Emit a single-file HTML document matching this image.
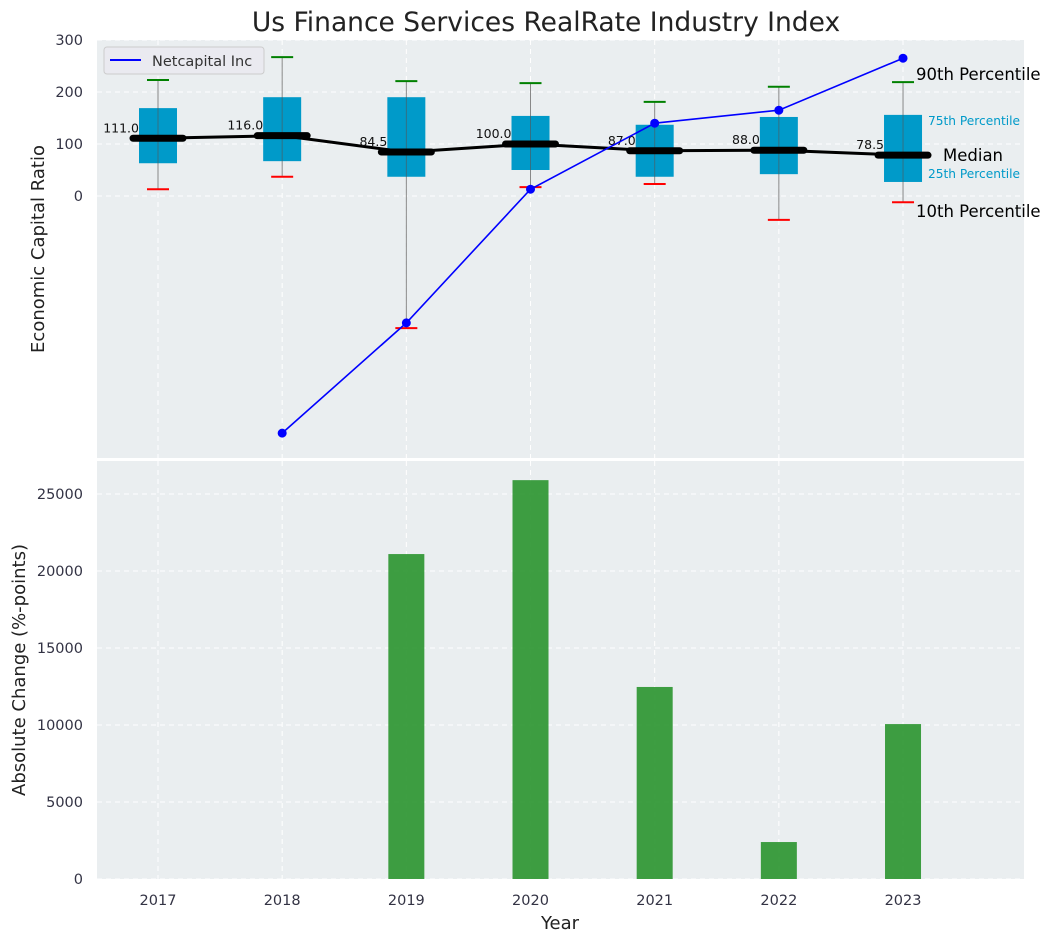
<!DOCTYPE html>
<html><head><meta charset="utf-8"><style>
body{margin:0;background:#fff;font-family:"DejaVu Sans","Liberation Sans",sans-serif}
svg{display:block}
</style></head><body>
<svg id="chart" width="1050" height="942" xmlns="http://www.w3.org/2000/svg" font-family="DejaVu Sans, Liberation Sans, sans-serif"></svg>
<script>
const years = [2017, 2018, 2019, 2020, 2021, 2022, 2023];
const p10 = [13, 37, -254, 17, 23, -46, -12];
const q1 = [63, 67, 37, 50, 37, 42, 27];
const medians = [111, 116, 84.5, 100, 87, 88, 78.5];
const q3 = [169, 190, 190, 154, 137, 152, 156];
const p90 = [223, 267, 221, 217, 181, 210, 219];
const company = [null, -456, -244, 13, 140, 165, 265];
const changes = [null, null, 21100, 25900, 12470, 2400, 10060];
const topTicks = [0, 100, 200, 300];
const botTicks = [0, 5000, 10000, 15000, 20000, 25000];

const NS = "http://www.w3.org/2000/svg";
const svg = document.getElementById('chart');
function mk(tag, attrs, parent, text) {
  const e = document.createElementNS(NS, tag);
  for (const k in attrs) e.setAttribute(k, attrs[k]);
  if (text !== undefined) e.textContent = text;
  (parent || svg).appendChild(e);
  return e;
}
const X0 = 97, X1 = 1024;
const xs = i => 158 + i * 124.17;
const yT = v => 196 - v * 0.52;
const yB = v => 879 - v * 0.01540;

let t = mk('text', {x: 546, y: 31, 'font-size': 26.5, 'text-anchor': 'middle', fill: '#222'}, svg, 'Us Finance Services RealRate Industry Index');
 

let p = mk('rect', {x: X0, y: 40, width: X1 - X0, height: 418, fill: '#eaeef0'});
 
p = mk('rect', {x: X0, y: 461, width: X1 - X0, height: 418, fill: '#eaeef0'});
 

years.forEach((y, i) => {
  mk('line', {x1: xs(i), x2: xs(i), y1: 40, y2: 458, stroke: '#fff', 'stroke-dasharray': '5,4'});
  mk('line', {x1: xs(i), x2: xs(i), y1: 461, y2: 879, stroke: '#fff', 'stroke-dasharray': '5,4'});
  const l = mk('text', {x: xs(i), y: 905, 'font-size': 14.5, 'text-anchor': 'middle', fill: '#334'}, svg, y);
   
});
topTicks.forEach(v => {
  mk('line', {x1: X0, x2: X1, y1: yT(v), y2: yT(v), stroke: '#fff', 'stroke-dasharray': '5,4'});
  const l = mk('text', {x: 83, y: yT(v) + 5, 'font-size': 14.5, 'text-anchor': 'end', fill: '#334'}, svg, v);
   
});
botTicks.forEach(v => {
  mk('line', {x1: X0, x2: X1, y1: yB(v), y2: yB(v), stroke: '#fff', 'stroke-dasharray': '5,4'});
  const l = mk('text', {x: 83, y: yB(v) + 5, 'font-size': 14.5, 'text-anchor': 'end', fill: '#334'}, svg, v);
   
});

years.forEach((y, i) => {
  const x = xs(i);
  const w = mk('line', {x1: x, x2: x, y1: yT(p90[i]), y2: yT(p10[i]), stroke: '#888', 'stroke-width': 1});
   
  const b = mk('rect', {x: x - 19, y: yT(q3[i]), width: 38, height: yT(q1[i]) - yT(q3[i]), fill: '#009ac9'});
   
  mk('line', {x1: x, x2: x, y1: yT(q3[i]), y2: yT(q1[i]), stroke: '#555', 'stroke-width': 1, opacity: 0.6});
  const g = mk('line', {x1: x - 11, x2: x + 11, y1: yT(p90[i]), y2: yT(p90[i]), stroke: 'green', 'stroke-width': 2});
   
  const r = mk('line', {x1: x - 11, x2: x + 11, y1: yT(p10[i]), y2: yT(p10[i]), stroke: 'red', 'stroke-width': 2});
   
});
let pts = years.map((y, i) => xs(i) + ',' + yT(medians[i])).join(' ');
let ml = mk('polyline', {points: pts, fill: 'none', stroke: '#000', 'stroke-width': 3});
 
years.forEach((y, i) => {
  const m = mk('line', {x1: xs(i) - 25, x2: xs(i) + 25, y1: yT(medians[i]), y2: yT(medians[i]), stroke: '#000', 'stroke-width': 7, 'stroke-linecap': 'round'});
   
  const l = mk('text', {x: xs(i) - 19, y: yT(medians[i]) - 6, 'font-size': 12.5, 'text-anchor': 'end', fill: '#111'}, svg, medians[i].toFixed(1));
   
});
const cp = [];
company.forEach((v, i) => { if (v !== null) cp.push([xs(i), yT(v)]); });
let cl = mk('polyline', {points: cp.map(a => a.join(',')).join(' '), fill: 'none', stroke: '#0000ff', 'stroke-width': 1.6});
 
cp.forEach(a => {
  const c = mk('circle', {cx: a[0], cy: a[1], r: 4.5, fill: '#0000ff'});
   
});
const li = years.length - 1;
[['90th Percentile', 916, yT(p90[li]) - 2, 16.5, '#000'],
 ['75th Percentile', 928, yT(q3[li]) + 10, 12.2, '#009ac9'],
 ['Median', 943, yT(medians[li]) + 6, 16.5, '#000'],
 ['25th Percentile', 928, yT(q1[li]) - 4, 12.2, '#009ac9'],
 ['10th Percentile', 916, yT(p10[li]) + 15, 16.5, '#000']].forEach(a => {
  const l = mk('text', {x: a[1], y: a[2], 'font-size': a[3], fill: a[4]}, svg, a[0]);
   
});
let lg = mk('g', {});
 
mk('rect', {x: 104, y: 47, width: 160, height: 27, rx: 3, fill: '#eaeaf0', stroke: '#ccc'}, lg);
mk('line', {x1: 110, x2: 141, y1: 60, y2: 60, stroke: '#0000ff', 'stroke-width': 2}, lg);
mk('text', {x: 152, y: 66, 'font-size': 14.5, fill: '#333'}, lg, 'Netcapital Inc');

years.forEach((y, i) => {
  if (changes[i] === null) return;
  const b = mk('rect', {x: xs(i) - 18, y: yB(changes[i]), width: 36, height: 879 - yB(changes[i]), fill: '#2e9632', opacity: 0.92});
   
});

let a1 = mk('text', {x: 44, y: 249, 'font-size': 18, 'text-anchor': 'middle', fill: '#222', transform: 'rotate(-90 44 249)'}, svg, 'Economic Capital Ratio');
 
let a2 = mk('text', {x: 25, y: 670, 'font-size': 18, 'text-anchor': 'middle', fill: '#222', transform: 'rotate(-90 25 670)'}, svg, 'Absolute Change (%-points)');
 
let a3 = mk('text', {x: 560, y: 929, 'font-size': 18, 'text-anchor': 'middle', fill: '#222'}, svg, 'Year');
 
</script>
</body></html>
